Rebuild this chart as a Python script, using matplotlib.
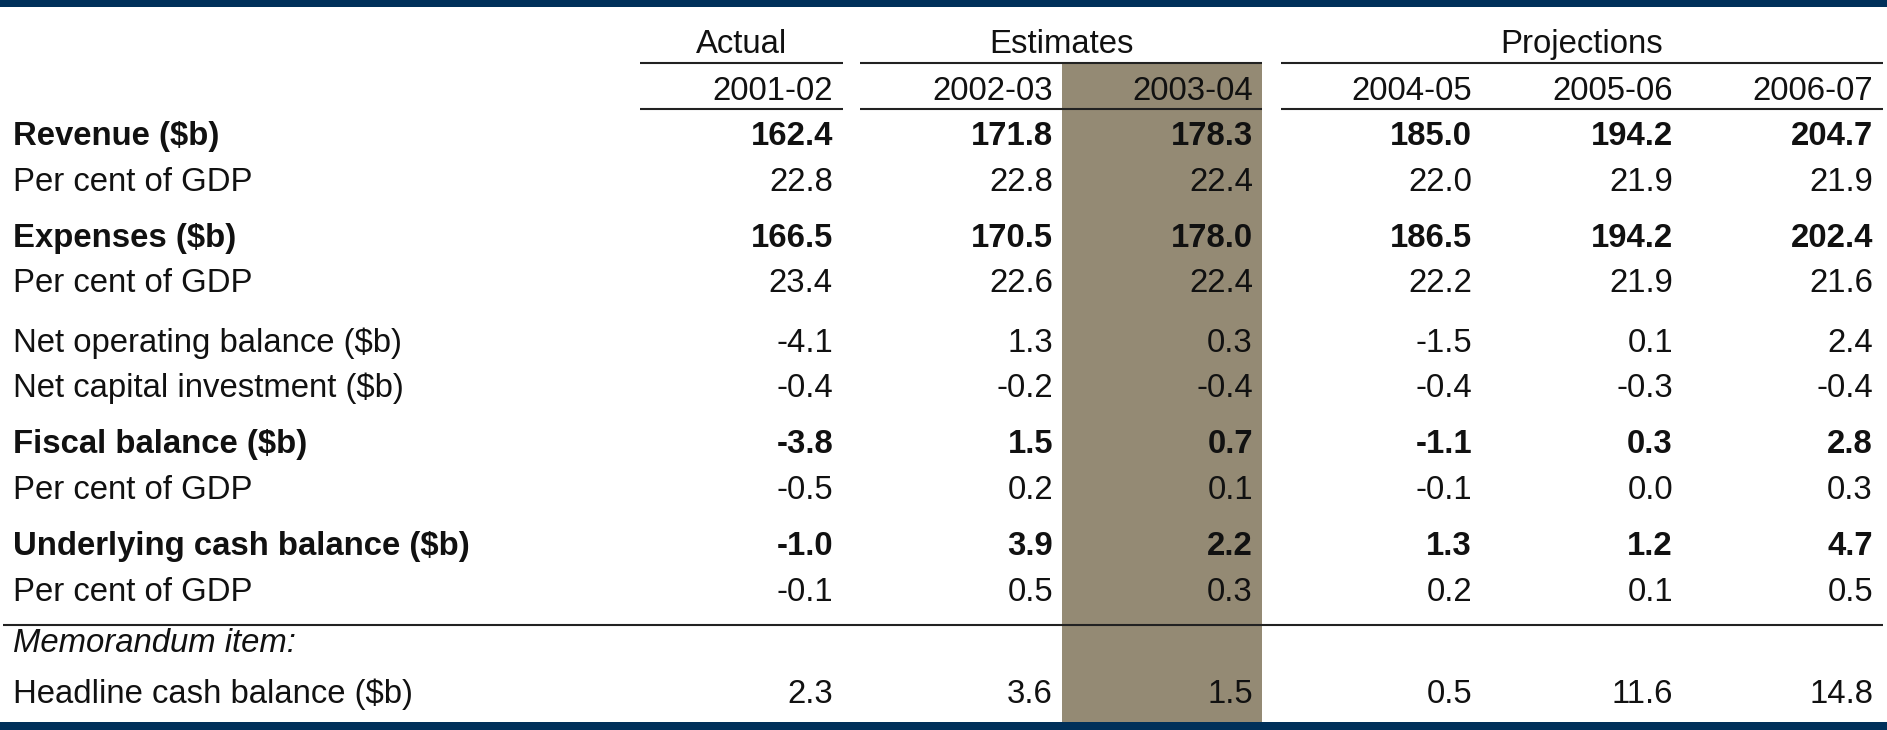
import matplotlib
matplotlib.use("Agg")
import matplotlib.pyplot as plt
from matplotlib.patches import Rectangle

plt.rcParams['font.family'] = ['Liberation Sans', 'DejaVu Sans']

# ---------------- data ----------------
groups = ["Actual", "Estimates", "Projections"]
years = ["2001-02", "2002-03", "2003-04", "2004-05", "2005-06", "2006-07"]

row_labels = [
    "Revenue ($b)", "Per cent of GDP",
    "Expenses ($b)", "Per cent of GDP",
    "Net operating balance ($b)", "Net capital investment ($b)",
    "Fiscal balance ($b)", "Per cent of GDP",
    "Underlying cash balance ($b)", "Per cent of GDP",
    "Memorandum item:", "Headline cash balance ($b)",
]
row_bold = [True, False, True, False, False, False, True, False, True, False, False, False]
row_italic = [False] * 10 + [True, False]

revenue = [162.4, 171.8, 178.3, 185.0, 194.2, 204.7]
revenue_pct = [22.8, 22.8, 22.4, 22.0, 21.9, 21.9]
expenses = [166.5, 170.5, 178.0, 186.5, 194.2, 202.4]
expenses_pct = [23.4, 22.6, 22.4, 22.2, 21.9, 21.6]
net_operating = [-4.1, 1.3, 0.3, -1.5, 0.1, 2.4]
net_capital = [-0.4, -0.2, -0.4, -0.4, -0.3, -0.4]
fiscal = [-3.8, 1.5, 0.7, -1.1, 0.3, 2.8]
fiscal_pct = [-0.5, 0.2, 0.1, -0.1, 0.0, 0.3]
underlying = [-1.0, 3.9, 2.2, 1.3, 1.2, 4.7]
underlying_pct = [-0.1, 0.5, 0.3, 0.2, 0.1, 0.5]
headline = [2.3, 3.6, 1.5, 0.5, 11.6, 14.8]

row_values = [revenue, revenue_pct, expenses, expenses_pct, net_operating,
              net_capital, fiscal, fiscal_pct, underlying, underlying_pct,
              None, headline]

# ---------------- layout (pixel units) ----------------
W, H = 1887, 730
fig = plt.figure(figsize=(W / 100, H / 100), dpi=100)
ax = fig.add_axes([0, 0, 1, 1])
ax.set_xlim(0, W)
ax.set_ylim(H, 0)
ax.axis("off")

navy = "#00305A"
shade = "#948A74"
txt = "#111111"
fs = 23.7

col_right = [833, 1053, 1253, 1472, 1673, 1873]
group_spans = [(640, 843), (860, 1262), (1281, 1883)]
row_base = [145, 191, 247, 292, 352, 397, 453, 499, 555, 601, 652, 703]
group_base = 53
year_base = 100
line1_y, line2_y, line3_y = 63, 109, 625
label_x = 13

# bands
ax.add_patch(Rectangle((0, 0), W, 7, color=navy, lw=0))
ax.add_patch(Rectangle((0, 722), W, 8, color=navy, lw=0))

# shaded column
ax.add_patch(Rectangle((1062, line1_y), 200, 722 - line1_y, color=shade, lw=0, zorder=0))

# group headers and lines
for g, (x0, x1) in zip(groups, group_spans):
    ax.text((x0 + x1) / 2, group_base, g, ha="center", va="baseline",
            fontsize=fs, color=txt)
    ax.plot([x0, x1], [line1_y, line1_y], color="#222222", lw=1.5, solid_capstyle="butt")
    ax.plot([x0, x1], [line2_y, line2_y], color="#222222", lw=1.5, solid_capstyle="butt")

for xr, y in zip(col_right, years):
    ax.text(xr, year_base, y, ha="right", va="baseline", fontsize=fs, color=txt)

ax.plot([3, 1883], [line3_y, line3_y], color="#222222", lw=1.5, solid_capstyle="butt")

# rows
for lab, bold, ital, vals, yb in zip(row_labels, row_bold, row_italic, row_values, row_base):
    ax.text(label_x, yb, lab, ha="left", va="baseline", fontsize=fs, color=txt,
            fontweight="bold" if bold else "normal",
            fontstyle="italic" if ital else "normal")
    if vals is None:
        continue
    for xr, v in zip(col_right, vals):
        ax.text(xr, yb, f"{v:.1f}", ha="right", va="baseline", fontsize=fs,
                color=txt, fontweight="bold" if bold else "normal")

fig.savefig("out.png", dpi=100)
